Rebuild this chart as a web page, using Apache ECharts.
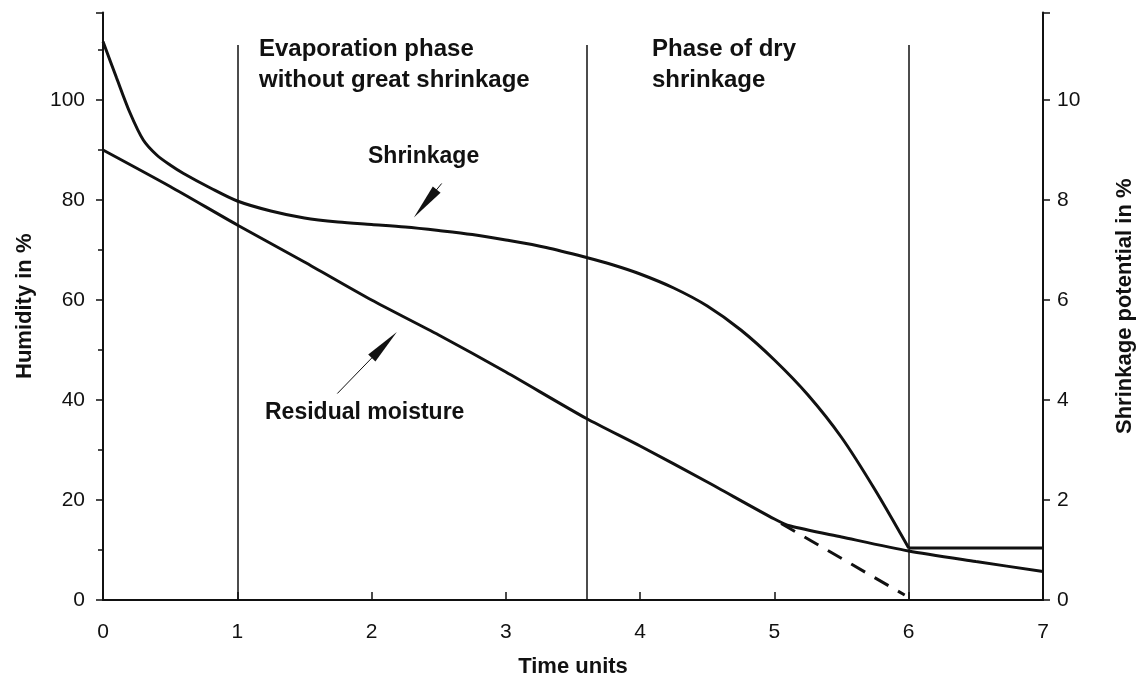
<!DOCTYPE html>
<html>
<head>
<meta charset="utf-8">
<script src="https://cdn.jsdelivr.net/npm/echarts@6/dist/echarts.min.js"></script>
<style>
  html, body { margin: 0; padding: 0; background: #fff; }
  #chart { width: 1136px; height: 681px; }
</style>
</head>
<body>
<div id="chart"></div>
<script>
// time axis ticks
var timeTicks = [0, 1, 2, 3, 4, 5, 6, 7];

// residual moisture, humidity in % (left axis)
var moistureX = [0, 0.5, 1, 1.5, 2, 2.5, 3, 3.6, 4, 4.5, 5, 5.12, 5.5, 6, 6.5, 7];
var moistureY = [90, 82.7, 75, 67.6, 60, 53, 45.6, 36.3, 30.8, 23.6, 16.2, 14.8, 12.6, 9.8, 7.7, 5.7];

// shrinkage potential in % (right axis), sharp corner at x = 6
var shrinkX = [0, 0.1, 0.2, 0.3, 0.4, 0.5, 0.6, 0.8, 1, 1.25, 1.5, 1.75, 2, 2.25, 2.5, 2.75, 3, 3.3, 3.6, 3.8, 4, 4.25, 4.5, 4.75, 5, 5.25, 5.5, 5.75, 6, 7];
var shrinkY = [11.17, 10.45, 9.75, 9.2, 8.9, 8.7, 8.53, 8.24, 7.98, 7.78, 7.64, 7.56, 7.51, 7.46, 7.39, 7.31, 7.2, 7.05, 6.85, 6.7, 6.52, 6.24, 5.88, 5.4, 4.8, 4.1, 3.25, 2.2, 1.04, 1.04];
var shrinkCornerX = 6;

// dashed extrapolation of residual moisture
var extrapX = [5.05, 5.97];
var extrapY = [15.3, 1.0];

// phase boundaries
var phaseX = [1, 3.6, 6];
var phaseTop = 111;

// arrow annotations: [x, y] start of thin line, head centre
var arrowMoisture = [[1.745, 41.3], [2.095, 51.0]];
var arrowShrink = [[2.522, 83.3], [2.40, 79.3]];

function pairs(xs, ys, from, to) {
    var res = [];
    for (var i = 0; i < xs.length; i++) {
        if (from != null && xs[i] < from) continue;
        if (to != null && xs[i] > to) continue;
        res.push([xs[i], ys[i]]);
    }
    return res;
}

var chartDom = document.getElementById('chart');
var myChart = echarts.init(chartDom);
var ink = '#111';
var font = 'Liberation Sans, Arial, sans-serif';

var option = {
    backgroundColor: '#fff',
    animation: false,
    textStyle: { fontFamily: font, color: ink },
    grid: { left: 103, right: 93, top: 12.5, bottom: 81, containLabel: false, outerBoundsMode: 'none' },
    xAxis: {
        type: 'value',
        min: 0,
        max: 7,
        interval: 1,
        name: 'Time units',
        nameLocation: 'middle',
        nameGap: 56,
        nameTextStyle: { fontSize: 22, fontWeight: 'bold', color: ink, fontFamily: font },
        axisLine: { lineStyle: { color: ink, width: 2 } },
        axisTick: { inside: true, length: 8, lineStyle: { color: ink, width: 1.5 } },
        axisLabel: { margin: 22, fontSize: 21, color: ink, fontFamily: font },
        splitLine: { show: false }
    },
    yAxis: [
        {
            type: 'value',
            min: 0,
            max: 117.5,
            interval: 20,
            name: 'Humidity in %',
            nameLocation: 'middle',
            nameRotate: 90,
            nameGap: 67,
            nameTextStyle: { fontSize: 22, fontWeight: 'bold', color: ink, fontFamily: font },
            axisLine: { show: true, lineStyle: { color: ink, width: 2 } },
            axisTick: { show: true, length: 7, lineStyle: { color: ink, width: 1.5 } },
            minorTick: { show: true, splitNumber: 2, length: 5, lineStyle: { color: ink, width: 1.5 } },
            axisLabel: {
                margin: 18, fontSize: 21, color: ink, fontFamily: font,
                formatter: function (v) { return v > 100 ? '' : v; }
            },
            splitLine: { show: false }
        },
        {
            type: 'value',
            min: 0,
            max: 11.75,
            interval: 2,
            position: 'right',
            name: 'Shrinkage potential in %',
            nameLocation: 'middle',
            nameRotate: 90,
            nameGap: 71,
            nameTextStyle: { fontSize: 22, fontWeight: 'bold', color: ink, fontFamily: font },
            axisLine: { show: true, lineStyle: { color: ink, width: 2 } },
            axisTick: { show: true, length: 7, lineStyle: { color: ink, width: 1.5 } },
            axisLabel: {
                margin: 14, fontSize: 21, color: ink, fontFamily: font,
                formatter: function (v) { return v > 10 ? '' : v; }
            },
            splitLine: { show: false }
        }
    ],
    graphic: [
        {
            type: 'text', left: 259, top: 34,
            style: {
                text: 'Evaporation phase\nwithout great shrinkage',
                font: 'bold 24px ' + font, fill: ink, lineHeight: 31
            }
        },
        {
            type: 'text', left: 652, top: 34,
            style: { text: 'Phase of dry\nshrinkage', font: 'bold 24px ' + font, fill: ink, lineHeight: 31 }
        },
        {
            type: 'text', left: 368, top: 145,
            style: { text: 'Shrinkage', font: 'bold 23px ' + font, fill: ink }
        },
        {
            type: 'text', left: 265, top: 401,
            style: { text: 'Residual moisture', font: 'bold 23px ' + font, fill: ink }
        }
    ],
    series: [
        {
            name: 'Residual moisture',
            type: 'line',
            yAxisIndex: 0,
            data: pairs(moistureX, moistureY),
            showSymbol: false,
            smooth: 0.25,
            lineStyle: { color: ink, width: 3 },
            markLine: {
                silent: true,
                symbol: ['none', 'none'],
                label: { show: false },
                lineStyle: { color: ink, width: 1.5, type: 'solid' },
                data: phaseX.map(function (x) {
                    return [{ coord: [x, 0] }, { coord: [x, phaseTop] }];
                }).concat([
                    [
                        { coord: arrowMoisture[0], symbol: 'none', lineStyle: { width: 1, color: ink } },
                        { coord: arrowMoisture[1], symbol: 'triangle', symbolSize: [10, 36] }
                    ],
                    [
                        { coord: arrowShrink[0], symbol: 'none', lineStyle: { width: 1, color: ink } },
                        { coord: arrowShrink[1], symbol: 'triangle', symbolSize: [10, 36] }
                    ]
                ])
            }
        },
        {
            name: 'Shrinkage',
            type: 'line',
            yAxisIndex: 1,
            data: pairs(shrinkX, shrinkY, null, shrinkCornerX),
            showSymbol: false,
            smooth: 0.3,
            lineStyle: { color: ink, width: 3 }
        },
        {
            name: 'Shrinkage (end)',
            type: 'line',
            yAxisIndex: 1,
            data: pairs(shrinkX, shrinkY, shrinkCornerX, null),
            showSymbol: false,
            lineStyle: { color: ink, width: 3 }
        },
        {
            name: 'Extrapolation',
            type: 'line',
            yAxisIndex: 0,
            data: pairs(extrapX, extrapY),
            showSymbol: false,
            lineStyle: { color: ink, width: 3, type: [16, 11] }
        }
    ]
};

option && myChart.setOption(option);
</script>
</body>
</html>
